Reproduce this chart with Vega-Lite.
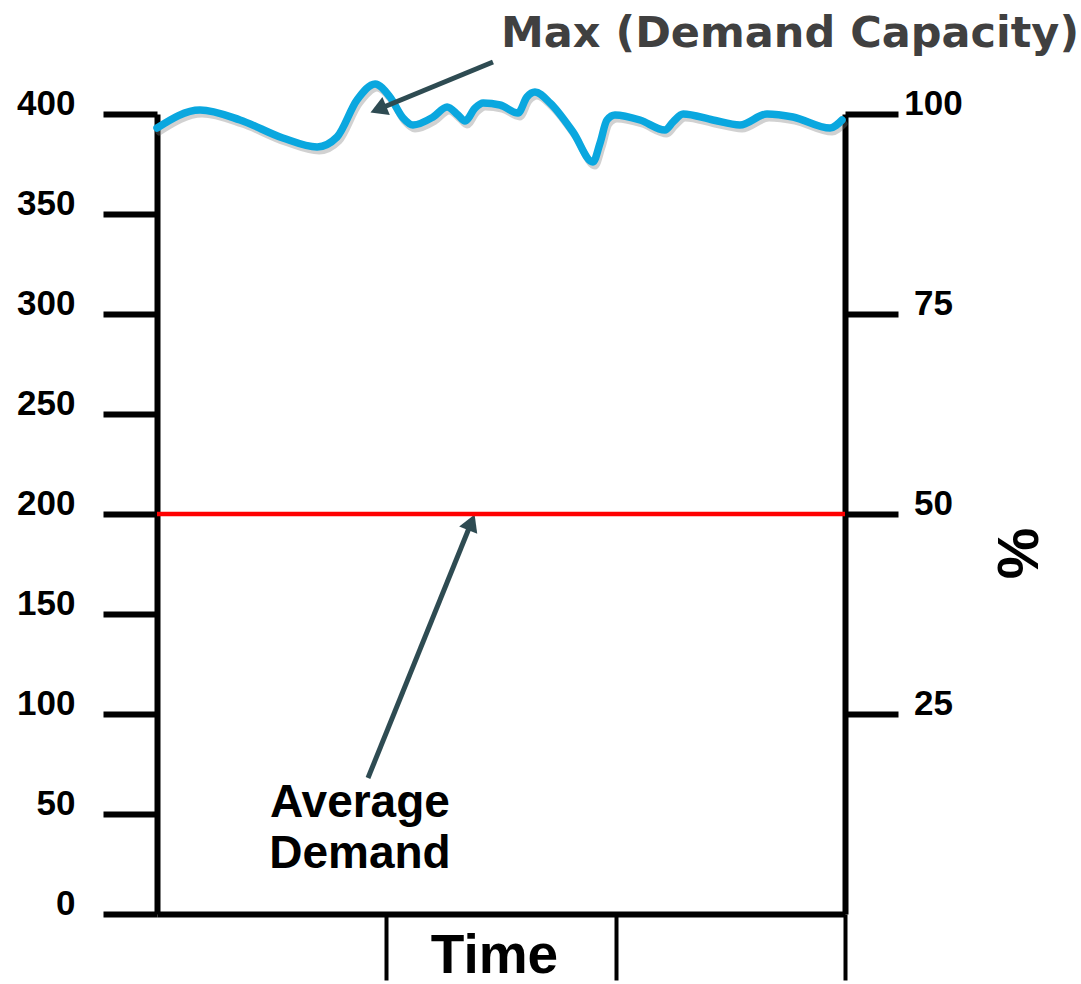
{
  "$schema": "https://vega.github.io/schema/vega-lite/v6.json",
  "width": 688,
  "height": 800,
  "autosize": "none",
  "padding": {"left": 157, "top": 114, "right": 236, "bottom": 70},
  "background": "white",
  "config": {"view": {"stroke": null}, "font": "Liberation Sans"},
  "datasets": {
    "capacity": [
      {"t": 0, "v": 393}, {"t": 0.1875, "v": 402}, {"t": 0.362, "v": 397}, {"t": 0.549, "v": 388},
      {"t": 0.698, "v": 383.5}, {"t": 0.785, "v": 388.5}, {"t": 0.872, "v": 407}, {"t": 0.951, "v": 415},
      {"t": 1.016, "v": 408.5}, {"t": 1.073, "v": 398}, {"t": 1.116, "v": 394.5}, {"t": 1.204, "v": 398.5},
      {"t": 1.265, "v": 403.5}, {"t": 1.3125, "v": 399.5}, {"t": 1.343, "v": 396.5}, {"t": 1.387, "v": 403},
      {"t": 1.422, "v": 405.5}, {"t": 1.496, "v": 404.5}, {"t": 1.574, "v": 400.5}, {"t": 1.613, "v": 408.5},
      {"t": 1.648, "v": 411}, {"t": 1.714, "v": 405.5}, {"t": 1.814, "v": 391}, {"t": 1.901, "v": 376},
      {"t": 1.932, "v": 385.5}, {"t": 1.962, "v": 397}, {"t": 1.997, "v": 399.5}, {"t": 2.106, "v": 397},
      {"t": 2.215, "v": 392}, {"t": 2.25, "v": 396}, {"t": 2.294, "v": 400}, {"t": 2.424, "v": 397},
      {"t": 2.542, "v": 394.5}, {"t": 2.66, "v": 400}, {"t": 2.773, "v": 398.5}, {"t": 2.935, "v": 393},
      {"t": 2.987, "v": 397}
    ],
    "average": [{"pct": 50}],
    "arrows": [
      {"name": "max", "t1": 1.465, "v1": 426, "t2": 0.965, "v2": 402.4},
      {"name": "avg", "t1": 0.92, "v1": 68, "t2": 1.371, "v2": 195.85}
    ],
    "labels": [
      {"name": "max", "t": 1.5, "v": 433.5, "label": "Max (Demand Capacity)"},
      {"name": "avg", "t": 0.885, "v": 48.5, "label": "Average\nDemand"}
    ]
  },
  "layer": [
    {
      "layer": [
        {
          "data": {"name": "capacity"},
          "mark": {"type": "line", "color": "#7a7a7a", "opacity": 0.35, "strokeWidth": 7, "interpolate": "monotone", "xOffset": 2, "yOffset": 4, "strokeCap": "round"},
          "encoding": {
            "x": {
              "field": "t", "type": "quantitative", "scale": {"domain": [0, 3], "nice": false},
              "axis": {
                "orient": "bottom", "values": [1, 2, 3], "labels": false, "grid": false,
                "domainColor": "black", "domainWidth": 6, "tickColor": "black", "tickWidth": 4, "tickSize": 66,
                "title": "Time", "titleFont": "Liberation Sans", "titleFontWeight": "bold", "titleFontSize": 55,
                "titleColor": "black", "titleX": 337, "titleY": 58, "titleAlign": "center", "titleBaseline": "alphabetic"
              }
            },
            "y": {
              "field": "v", "type": "quantitative", "scale": {"domain": [0, 400], "nice": false},
              "axis": {
                "orient": "left", "values": [0, 50, 100, 150, 200, 250, 300, 350, 400], "grid": false,
                "domainColor": "black", "domainWidth": 6, "tickColor": "black", "tickWidth": 6, "tickSize": 54,
                "labelFont": "Liberation Sans", "labelFontWeight": "bold", "labelFontSize": 35, "labelColor": "black",
                "labelPadding": 28, "labelAlign": "right", "labelBaseline": "alphabetic", "labelFlush": false,
                "labelOverlap": false, "title": null
              }
            }
          }
        },
        {
          "data": {"name": "capacity"},
          "mark": {"type": "line", "color": "#0AA7DF", "strokeWidth": 7.5, "interpolate": "monotone", "strokeCap": "round"},
          "encoding": {
            "x": {"field": "t", "type": "quantitative", "scale": {"domain": [0, 3], "nice": false}},
            "y": {"field": "v", "type": "quantitative", "scale": {"domain": [0, 400], "nice": false}}
          }
        },
        {
          "data": {"name": "arrows"},
          "mark": {"type": "rule", "color": "#2E4B52", "strokeWidth": 5},
          "encoding": {
            "x": {"field": "t1", "type": "quantitative", "scale": {"domain": [0, 3], "nice": false}},
            "y": {"field": "v1", "type": "quantitative", "scale": {"domain": [0, 400], "nice": false}},
            "x2": {"field": "t2"},
            "y2": {"field": "v2"}
          }
        },
        {
          "data": {"name": "arrows"},
          "transform": [{"filter": "datum.name === 'max'"}],
          "mark": {"type": "point", "shape": "triangle-up", "filled": true, "color": "#2E4B52", "opacity": 1, "size": 380, "angle": 247.6},
          "encoding": {
            "x": {"field": "t2", "type": "quantitative", "scale": {"domain": [0, 3], "nice": false}},
            "y": {"field": "v2", "type": "quantitative", "scale": {"domain": [0, 400], "nice": false}}
          }
        },
        {
          "data": {"name": "arrows"},
          "transform": [{"filter": "datum.name === 'avg'"}],
          "mark": {"type": "point", "shape": "triangle-up", "filled": true, "color": "#2E4B52", "opacity": 1, "size": 380, "angle": 22.2},
          "encoding": {
            "x": {"field": "t2", "type": "quantitative", "scale": {"domain": [0, 3], "nice": false}},
            "y": {"field": "v2", "type": "quantitative", "scale": {"domain": [0, 400], "nice": false}}
          }
        },
        {
          "data": {"name": "labels"},
          "transform": [{"filter": "datum.name === 'max'"}],
          "mark": {"type": "text", "font": "DejaVu Sans", "fontWeight": "bold", "fontSize": 43, "color": "#404040", "align": "left", "baseline": "alphabetic"},
          "encoding": {
            "x": {"field": "t", "type": "quantitative", "scale": {"domain": [0, 3], "nice": false}},
            "y": {"field": "v", "type": "quantitative", "scale": {"domain": [0, 400], "nice": false}},
            "text": {"field": "label"}
          }
        },
        {
          "data": {"name": "labels"},
          "transform": [{"filter": "datum.name === 'avg'"}],
          "mark": {"type": "text", "font": "Liberation Sans", "fontWeight": "bold", "fontSize": 46, "color": "black", "align": "center", "baseline": "alphabetic", "lineBreak": "\n", "lineHeight": 51},
          "encoding": {
            "x": {"field": "t", "type": "quantitative", "scale": {"domain": [0, 3], "nice": false}},
            "y": {"field": "v", "type": "quantitative", "scale": {"domain": [0, 400], "nice": false}},
            "text": {"field": "label"}
          }
        }
      ]
    },
    {
      "data": {"name": "average"},
      "mark": {"type": "rule", "color": "#FF0000", "strokeWidth": 4.5},
      "encoding": {
        "y": {
          "field": "pct", "type": "quantitative", "scale": {"domain": [0, 100], "nice": false},
          "axis": {
            "orient": "right", "values": [25, 50, 75, 100], "grid": false,
            "domainColor": "black", "domainWidth": 6, "tickColor": "black", "tickWidth": 6, "tickSize": 53,
            "labelFont": "Liberation Sans", "labelFontWeight": "bold", "labelFontSize": 35, "labelColor": "black",
            "labelPadding": 35, "labelAlign": "center", "labelBaseline": "alphabetic", "labelFlush": false,
            "labelOverlap": false,
            "title": "%", "titleFont": "Liberation Sans", "titleFontWeight": "bold", "titleFontSize": 58,
            "titleColor": "black", "titleAngle": 90, "titleX": 169, "titleY": 439, "titleAlign": "center",
            "titleBaseline": "middle"
          }
        }
      }
    }
  ],
  "resolve": {"scale": {"y": "independent"}, "axis": {"y": "independent"}}
}
